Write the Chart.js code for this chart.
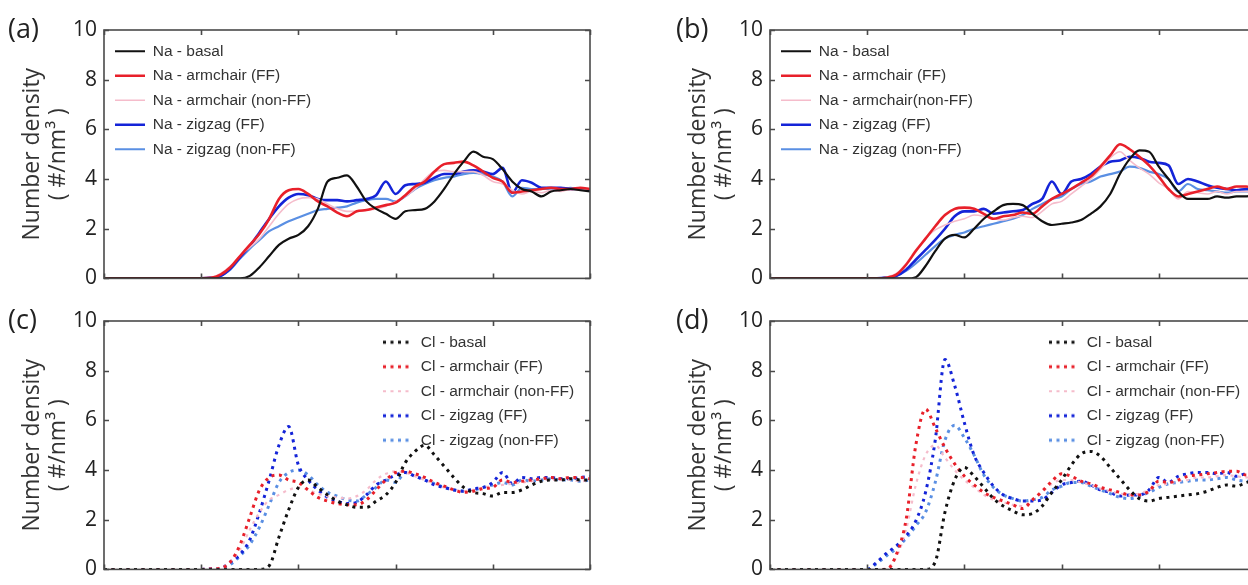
<!DOCTYPE html>
<html>
<head>
<meta charset="utf-8">
<script src="https://cdn.jsdelivr.net/npm/chart.js@4.4.1/dist/chart.umd.min.js"></script>
<style>
  html, body { margin: 0; padding: 0; background: #fff; overflow: hidden; width: 1248px; height: 585px; }
  .panel { position: absolute; }
  .tag { position: absolute; font: 27px 'Open Sans', sans-serif; color: #222; line-height: 27px; }
</style>
</head>
<body>
<canvas id="chartA" class="panel" width="600" height="298" style="left:0;top:0"></canvas>
<canvas id="chartB" class="panel" width="600" height="298" style="left:666px;top:0"></canvas>
<canvas id="chartC" class="panel" width="600" height="298" style="left:0;top:291px"></canvas>
<canvas id="chartD" class="panel" width="600" height="298" style="left:666px;top:291px"></canvas>
<div class="tag" style="left:8px;top:14px">(a)</div>
<div class="tag" style="left:676px;top:14px">(b)</div>
<div class="tag" style="left:8px;top:305px">(c)</div>
<div class="tag" style="left:676px;top:305px">(d)</div>
<script>
// distance grid shared by all four panels (x tick labels are cut off in the figure)
const zGrid = [0, 1.0, 1.1, 1.2, 1.3, 1.4, 1.5, 1.6, 1.7, 1.8, 1.9, 2.0, 2.1, 2.2, 2.3, 2.4, 2.5, 2.6, 2.7, 2.8, 2.9,
  3.0, 3.1, 3.2, 3.3, 3.4, 3.5, 3.6, 3.7, 3.8, 3.9, 4.0, 4.1, 4.2, 4.3, 4.4, 4.5, 4.6, 4.7, 4.8, 4.9, 5.0];
const yTicks = [0, 2, 4, 6, 8, 10];

const seriesNames = ['basal', 'armchair (FF)', 'armchair (non-FF)', 'zigzag (FF)', 'zigzag (non-FF)'];
const namesB = ['basal', 'armchair (FF)', 'armchair(non-FF)', 'zigzag (FF)', 'zigzag (non-FF)'];

// (a) Na
const naBasalA  = [0, 0,0,0,0,0, 0.1,0.45,0.9,1.35,1.6, 1.75,2.1,2.8,3.9,4.05, 4.15,3.7,3.1,2.8,2.6, 2.4,2.7,2.75,2.8,3.1, 3.6,4.2,4.7,5.1,4.9, 4.8,4.4,3.9,3.6,3.5, 3.3,3.5,3.55,3.6,3.55, 3.5];
const naArmFFA  = [0, 0,0.02,0.15,0.45,0.9, 1.35,1.8,2.4,3.2,3.55, 3.6,3.4,3.1,2.9,2.65, 2.5,2.7,2.75,2.85,2.95, 3.05,3.35,3.7,3.9,4.3, 4.6,4.65,4.7,4.55,4.3, 4.05,3.9,3.45,3.5,3.55, 3.6,3.65,3.6,3.6,3.65, 3.6];
const naArmNonA = [0, 0,0.03,0.2,0.5,0.9, 1.25,1.6,2.1,2.6,3.0, 3.2,3.25,3.2,3.0,2.8, 2.7,2.7,2.75,2.8,2.9, 3.1,3.3,3.6,4.0,4.3, 4.35,4.3,4.3,4.3,4.15, 3.9,3.8,3.55,3.4,3.5, 3.45,3.55,3.5,3.6,3.55, 3.6];
const naZigFFA  = [0, 0,0.02,0.1,0.4,0.85, 1.3,1.85,2.4,2.9,3.25, 3.4,3.35,3.2,3.15,3.15, 3.1,3.15,3.2,3.35,3.9, 3.4,3.75,3.8,3.85,4.05, 4.2,4.2,4.3,4.35,4.3, 4.2,4.45,3.45,3.95,3.85, 3.65,3.65,3.65,3.6,3.6, 3.55];
const naZigNonA = [0, 0,0.02,0.1,0.35,0.8, 1.2,1.55,1.9,2.1,2.3, 2.45,2.6,2.75,2.8,2.85, 2.9,3.05,3.15,3.2,3.2, 3.1,3.3,3.6,3.8,3.95, 4.05,4.1,4.2,4.25,4.2, 4.1,3.9,3.3,3.65,3.6, 3.6,3.6,3.6,3.65,3.6, 3.6];

// (b) Na
const naBasalB  = [0, 0,0,0,0,0, 0.05,0.5,1.1,1.6,1.75, 1.65,2.0,2.4,2.7,2.95, 3.0,2.95,2.6,2.3,2.15, 2.2,2.25,2.35,2.6,2.9, 3.4,4.2,4.8,5.15,5.1, 4.5,4.0,3.5,3.2,3.2, 3.2,3.3,3.25,3.3,3.3, 3.4];
const naArmFFB  = [0, 0,0,0.03,0.15,0.55, 1.1,1.6,2.1,2.55,2.8, 2.85,2.8,2.6,2.4,2.5, 2.55,2.65,2.6,2.9,3.2, 3.4,3.6,3.85,4.1,4.5, 4.95,5.4,5.2,4.9,4.55, 4.1,3.6,3.3,3.4,3.5, 3.6,3.7,3.6,3.7,3.7, 3.6];
const naArmNonB = [0, 0,0,0.05,0.2,0.6, 1.15,1.6,1.95,2.15,2.3, 2.4,2.55,2.5,2.4,2.35, 2.45,2.5,2.45,2.7,3.0, 3.1,3.4,3.7,4.0,4.4, 4.85,5.1,4.75,4.45,4.2, 3.85,3.6,3.2,3.5,3.45, 3.4,3.5,3.4,3.5,3.5, 3.5];
const naZigFFB  = [0, 0,0,0.03,0.1,0.35, 0.75,1.15,1.55,2.0,2.5, 2.7,2.7,2.8,2.6,2.65, 2.7,2.75,3.0,3.2,3.9, 3.4,3.9,4.0,4.2,4.5, 4.7,4.75,4.9,4.85,4.7, 4.65,4.55,3.8,4.0,3.9, 3.75,3.65,3.6,3.55,3.6, 3.6];
const naZigNonB = [0, 0,0,0.03,0.1,0.3, 0.6,0.95,1.3,1.6,1.75, 1.85,2.0,2.1,2.2,2.3, 2.4,2.55,2.8,3.0,3.2, 3.3,3.6,3.8,3.9,4.1, 4.2,4.3,4.5,4.45,4.3, 4.2,4.0,3.5,3.8,3.6, 3.55,3.5,3.45,3.5,3.5, 3.5];

// (c) Cl
const clBasalC  = [0, 0,0,0,0,0, 0,0,0.15,1.3,2.4, 3.3,3.6,3.3,3.0,2.75, 2.6,2.5,2.5,2.75,3.0, 3.5,4.3,4.75,5.0,4.6, 4.15,3.7,3.3,3.1,3.05, 2.95,3.1,3.1,3.2,3.4, 3.55,3.6,3.6,3.65,3.6, 3.6];
const clArmFFC  = [0, 0,0.02,0.05,0.3,1.0, 2.1,3.2,3.7,3.8,3.6, 3.5,3.2,2.9,2.75,2.65, 2.6,2.6,2.8,3.2,3.6, 3.9,3.95,3.85,3.7,3.5, 3.35,3.2,3.1,3.15,3.25, 3.3,3.6,3.5,3.55,3.6, 3.65,3.7,3.65,3.7,3.7, 3.65];
const clArmNonC = [0, 0,0.02,0.08,0.3,0.8, 1.6,2.3,2.8,3.0,3.2, 3.3,3.2,3.05,2.95,2.9, 2.85,2.95,3.2,3.6,3.85, 3.95,3.9,3.75,3.6,3.45, 3.3,3.2,3.15,3.2,3.3, 3.35,3.4,3.45,3.5,3.55, 3.6,3.6,3.6,3.6,3.55, 3.6];
const clZigFFC  = [0, 0,0.02,0.05,0.3,0.6, 1.2,2.3,3.6,5.0,5.75, 4.2,3.6,3.2,2.9,2.75, 2.65,2.7,3.0,3.4,3.6, 3.8,3.9,3.75,3.6,3.4, 3.3,3.2,3.15,3.25,3.3, 3.5,3.9,3.45,3.7,3.65, 3.7,3.7,3.65,3.65,3.7, 3.75];
const clZigNonC = [0, 0,0.02,0.05,0.2,0.55, 1.0,1.7,2.6,3.5,3.9, 4.0,3.8,3.4,3.1,2.95, 2.8,2.75,3.0,3.3,3.6, 3.5,3.9,3.75,3.6,3.45, 3.3,3.2,3.15,3.2,3.3, 3.4,3.5,3.4,3.6,3.55, 3.6,3.65,3.6,3.6,3.55, 3.6];

// (d) Cl
const clBasalD  = [0, 0,0,0,0,0, 0,0,0.3,2.3,3.6, 4.1,3.75,3.3,2.85,2.55, 2.35,2.2,2.25,2.55,3.1, 3.6,4.2,4.65,4.75,4.55, 4.1,3.65,3.2,2.85,2.75, 2.85,2.9,2.95,3.0,3.05, 3.15,3.3,3.4,3.35,3.5, 3.55];
const clArmFFD  = [0, 0,0,0,0.6,2.0, 5.0,6.45,5.7,4.9,4.25, 3.75,3.4,3.1,2.9,2.75, 2.6,2.45,2.8,3.15,3.55, 3.85,3.75,3.55,3.45,3.3, 3.2,3.1,3.0,3.0,3.15, 3.55,3.5,3.6,3.75,3.8, 3.85,3.9,3.95,3.95,3.8, 3.8];
const clArmNonD = [0, 0,0,0.05,0.5,1.6, 3.4,4.6,5.0,4.5,4.0, 3.6,3.3,3.0,2.8,2.7, 2.6,2.55,2.8,3.1,3.45, 3.6,3.6,3.5,3.4,3.25, 3.15,3.05,3.0,3.05,3.2, 3.4,3.45,3.55,3.6,3.7, 3.7,3.75,3.8,3.75,3.7, 3.7];
const clZigFFD  = [0, 0,0.3,0.65,0.95,1.35, 1.95,3.1,5.2,8.45,7.4, 5.9,4.6,3.9,3.35,3.0, 2.85,2.75,2.75,2.8,3.1, 3.4,3.5,3.55,3.4,3.2, 3.1,2.95,3.0,3.0,3.2, 3.7,3.5,3.75,3.85,3.9, 3.9,3.85,3.9,3.75,3.85, 3.8];
const clZigNonD = [0, 0,0.25,0.55,0.85,1.25, 1.75,2.3,3.5,5.2,5.8, 5.3,4.6,3.8,3.3,3.0, 2.85,2.75,2.8,2.9,3.2, 3.35,3.5,3.5,3.35,3.2, 3.05,2.9,2.85,2.95,3.1, 3.3,3.45,3.5,3.55,3.6, 3.6,3.65,3.7,3.6,3.55, 3.6];

const colors = ['#111111', '#e8202a', '#f5bccb', '#1424d8', '#5a8fe3'];
const widths = [2.2, 2.6, 1.6, 2.6, 2.2];
const dotDash = [3, 4.5];

const pts = (ys) => zGrid.map((x, i) => ({ x, y: ys[i] }));

// small dotted swatch for the legend (the built-in 'line' point style ignores dashes)
function dottedSwatch(color, width) {
  const c = document.createElement('canvas');
  c.width = 30; c.height = 8;
  const g = c.getContext('2d');
  g.strokeStyle = color;
  g.lineWidth = width;
  g.setLineDash(dotDash);
  g.beginPath(); g.moveTo(0, 4); g.lineTo(30, 4); g.stroke();
  return c;
}

// legend placed inside the axes at a fixed offset from the top-left corner
const legendSpot = {
  id: 'legendSpot',
  afterLayout(chart, args, opts) {
    const lg = chart.legend;
    if (!lg) return;
    const pad = lg.options.labels.padding;
    const w = lg.width, h = lg.height;
    lg.left = chart.chartArea.left + opts.dx - pad;
    lg.top = chart.chartArea.top + opts.dy - pad;
    lg.right = lg.left + w;
    lg.bottom = lg.top + h;
  }
};

// matplotlib-like box with inward ticks on all four sides
const boxFrame = {
  id: 'boxFrame',
  afterDatasetsDraw(chart) {
    const { ctx, chartArea: a, scales: { x, y } } = chart;
    ctx.save();
    ctx.strokeStyle = '#4a4a4a';
    ctx.lineWidth = 1.6;
    ctx.strokeRect(a.left, a.top, a.right - a.left, a.bottom - a.top);
    ctx.beginPath();
    x.ticks.forEach(t => {
      const px = Math.round(x.getPixelForValue(t.value)) + 0.5;
      ctx.moveTo(px, a.bottom); ctx.lineTo(px, a.bottom - 5);
      ctx.moveTo(px, a.top); ctx.lineTo(px, a.top + 5);
    });
    y.ticks.forEach(t => {
      const py = Math.round(y.getPixelForValue(t.value)) + 0.5;
      ctx.moveTo(a.left, py); ctx.lineTo(a.left + 5, py);
      ctx.moveTo(a.right, py); ctx.lineTo(a.right - 5, py);
    });
    ctx.stroke();
    ctx.restore();
  }
};

function makePanel(id, ion, names, sets, dotted, legendX) {
  const datasets = sets.map((ys, i) => {
    const bw = dotted ? (i === 2 ? 2.2 : 3) : widths[i];
    return {
      label: ion + ' - ' + names[i],
      data: pts(ys),
      borderColor: colors[i],
      backgroundColor: colors[i],
      borderWidth: bw,
      borderDash: dotted ? dotDash : [],
      pointRadius: 0,
      pointStyle: dotted ? dottedSwatch(colors[i], bw) : 'line',
      cubicInterpolationMode: 'monotone',
      fill: false
    };
  });
  return new Chart(document.getElementById(id), {
    type: 'line',
    data: { datasets },
    options: {
      responsive: false,
      animation: false,
      layout: { padding: { top: 30, bottom: 10, left: 0, right: 10 } },
      plugins: {
        legend: {
          position: 'chartArea',
          align: 'start',
          labels: {
            usePointStyle: true,
            pointStyleWidth: 30,
            padding: 9,
            color: '#333',
            font: { family: "'Liberation Sans', Arial, sans-serif", size: 15.5 }
          }
        },
        tooltip: { enabled: false },
        legendSpot: { dx: legendX, dy: 13.5 }
      },
      scales: {
        x: {
          type: 'linear', min: 0, max: 5,
          grid: { display: false }, border: { display: false },
          ticks: { stepSize: 1, display: false },
          afterFit: (s) => { s.height = 0; }
        },
        y: {
          min: 0, max: 10,
          grid: { display: false, drawTicks: false }, border: { display: false },
          afterBuildTicks: (s) => { s.ticks = yTicks.map(v => ({ value: v })); },
          ticks: { padding: 7, color: '#222', font: { family: "'Open Sans', sans-serif", size: 21 } },
          title: {
            display: true,
            text: ['Number density', '( #/nm\u00b3 )'],
            color: '#333',
            font: { family: "'Open Sans', sans-serif", size: 23, lineHeight: 1.15 },
            padding: { top: 19, bottom: 0 }
          },
          afterFit: (s) => { s.width = 104; }
        }
      }
    },
    plugins: [legendSpot, boxFrame]
  });
}

makePanel('chartA', 'Na', seriesNames, [naBasalA, naArmFFA, naArmNonA, naZigFFA, naZigNonA], false, 11);
makePanel('chartB', 'Na', namesB, [naBasalB, naArmFFB, naArmNonB, naZigFFB, naZigNonB], false, 11);
makePanel('chartC', 'Cl', seriesNames, [clBasalC, clArmFFC, clArmNonC, clZigFFC, clZigNonC], true, 279);
makePanel('chartD', 'Cl', seriesNames, [clBasalD, clArmFFD, clArmNonD, clZigFFD, clZigNonD], true, 279);
</script>
</body>
</html>
